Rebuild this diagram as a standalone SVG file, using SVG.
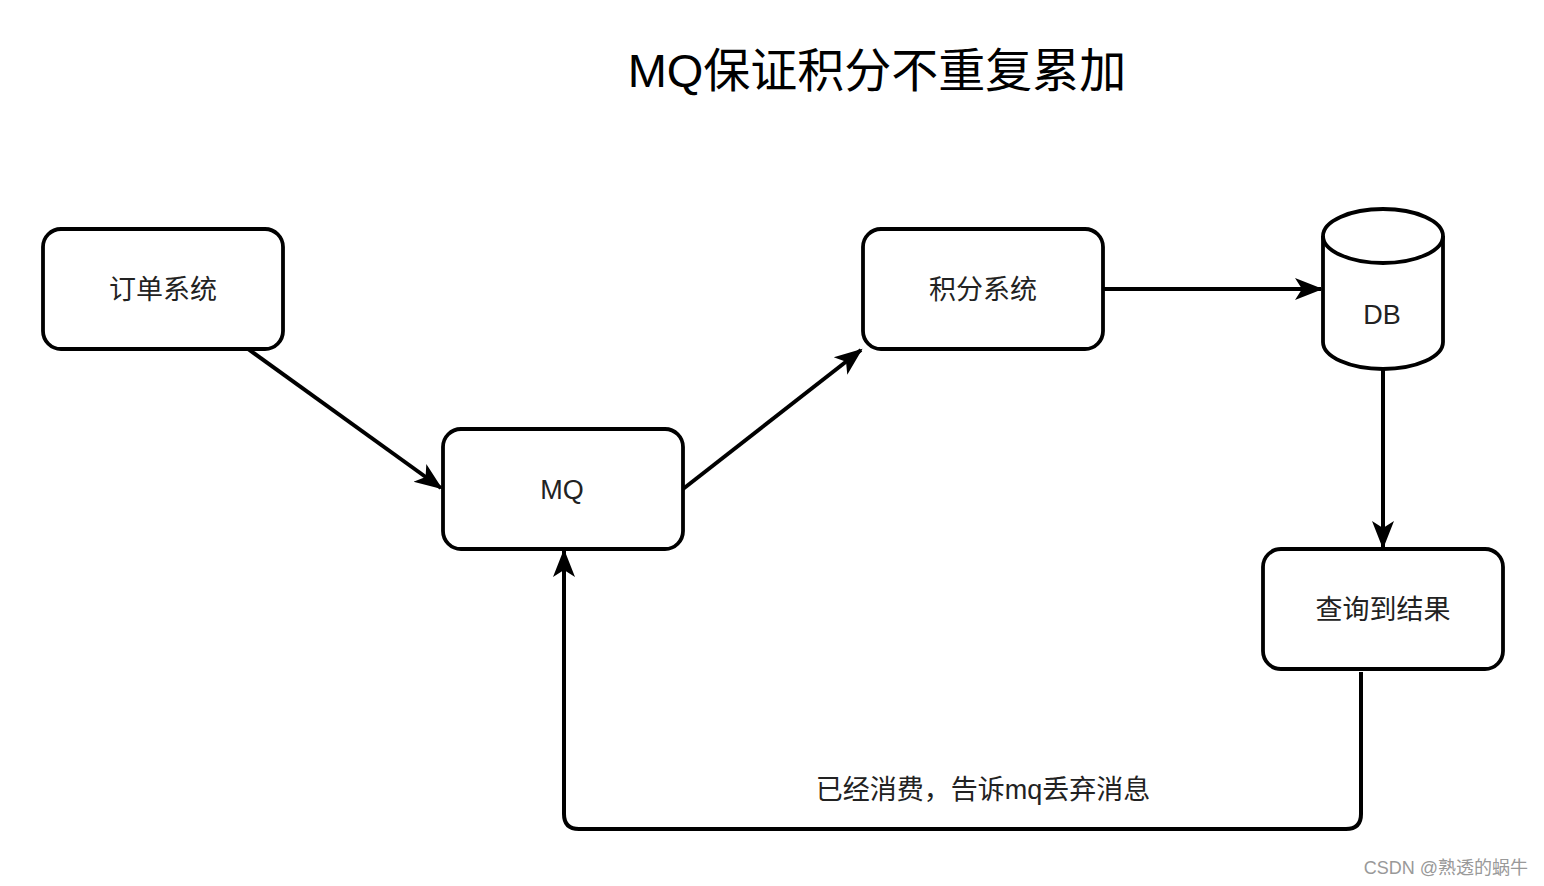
<svg xmlns="http://www.w3.org/2000/svg" width="1544" height="886" viewBox="0 0 1544 886">
<style>
.box{fill:#fff;stroke:#000;stroke-width:3.8}
.t{font-family:"Liberation Sans","Noto Sans CJK SC",sans-serif;font-size:27px;fill:#222;text-anchor:middle;dominant-baseline:central}
.c{fill:none;stroke:#000;stroke-width:4}
</style>
<defs>
<marker id="ah" markerUnits="userSpaceOnUse" markerWidth="30" markerHeight="26" viewBox="0 0 30 26" refX="26" refY="13" orient="auto">
<path d="M0,2 L28,13 L0,24 L7,13 z" fill="#000"/>
</marker>
</defs>
<rect width="1544" height="886" fill="#fff"/>
<text x="877" y="70" font-family="Liberation Sans,'Noto Sans CJK SC',sans-serif" font-size="47" text-anchor="middle" dominant-baseline="central" fill="#000">MQ保证积分不重复累加</text>
<g id="order"><rect class="box" x="43" y="229" width="240" height="120" rx="18"/><text class="t" x="163" y="290">订单系统</text></g>
<g id="mq"><rect class="box" x="443" y="429" width="240" height="120" rx="18"/><text class="t" x="562" y="490" font-size="25">MQ</text></g>
<g id="points"><rect class="box" x="863" y="229" width="240" height="120" rx="18"/><text class="t" x="983" y="290">积分系统</text></g>
<g id="db">
<path class="box" d="M1323,236 A60,27 0 0 1 1443,236 L1443,342 A60,27 0 0 1 1323,342 Z"/>
<path class="box" style="fill:none" d="M1323,236 A60,27 0 0 0 1443,236"/>
<text class="t" x="1382" y="315" font-size="25">DB</text>
</g>
<g id="result"><rect class="box" x="1263" y="549" width="240" height="120" rx="18"/><text class="t" x="1383" y="610">查询到结果</text></g>
<g id="connectors">
<path class="c" d="M248,349 L441,488" marker-end="url(#ah)"/>
<path class="c" d="M683,489 L861,350" marker-end="url(#ah)"/>
<path class="c" d="M1103,289 L1321,289" marker-end="url(#ah)"/>
<path class="c" d="M1383,369 L1383,547" marker-end="url(#ah)"/>
<path class="c" d="M1361,672 L1361,814 Q1361,829 1346,829 L579,829 Q564,829 564,814 L564,551" marker-end="url(#ah)"/>
<text class="t" x="983" y="790">已经消费，告诉mq丢弃消息</text>
</g>
<text x="1528" y="868" font-family="Liberation Sans,'Noto Sans CJK SC',sans-serif" font-size="18" fill="#999" text-anchor="end" dominant-baseline="central">CSDN @熟透的蜗牛</text>
</svg>
